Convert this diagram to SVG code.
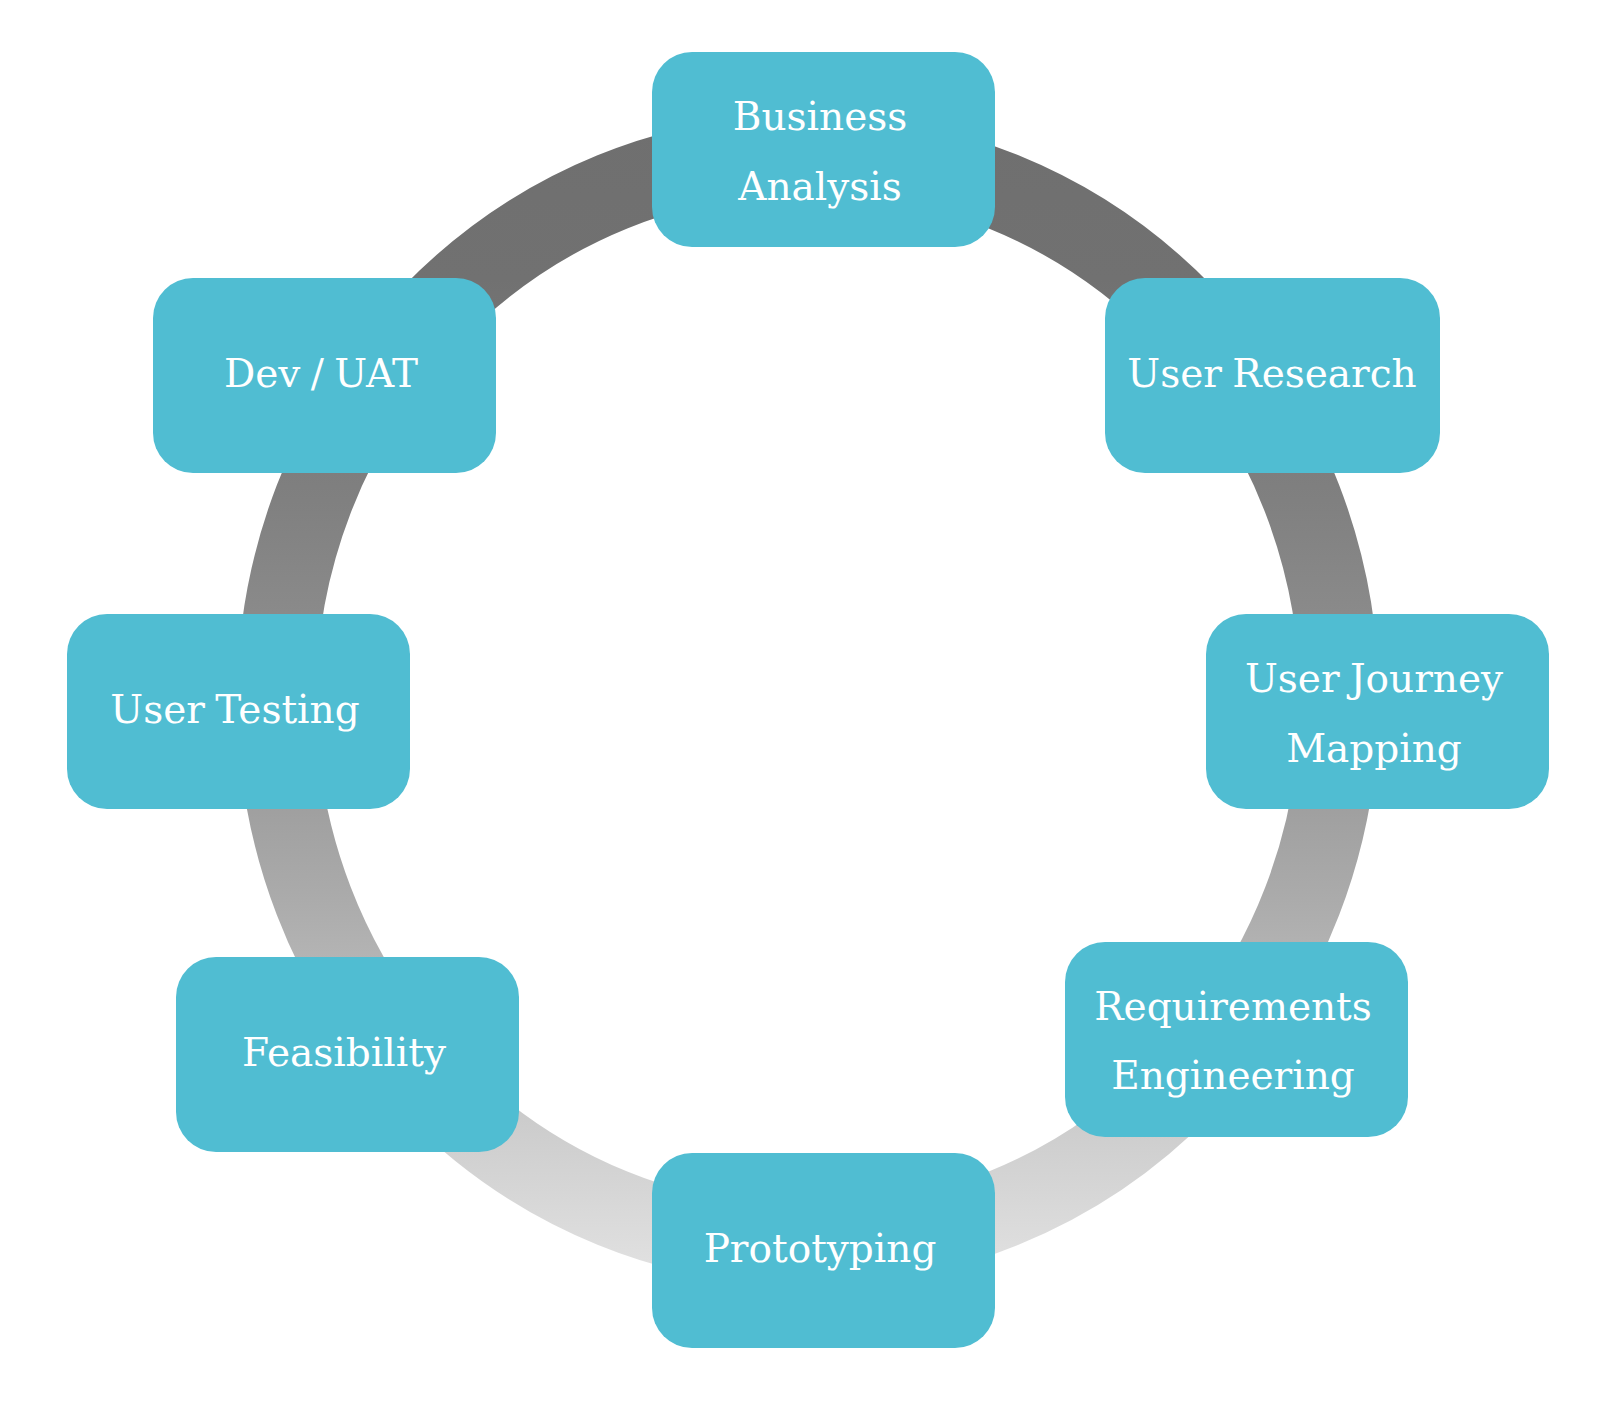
<svg xmlns="http://www.w3.org/2000/svg" width="1598" height="1410" viewBox="0 0 1598 1410">
  <defs>
    <linearGradient id="ringGrad" gradientUnits="userSpaceOnUse" x1="0" y1="115" x2="0" y2="1286">
      <stop offset="0" stop-color="#6f6f6f"/>
      <stop offset="0.14" stop-color="#717171"/>
      <stop offset="0.33" stop-color="#808080"/>
      <stop offset="0.5" stop-color="#929292"/>
      <stop offset="0.67" stop-color="#ababab"/>
      <stop offset="0.84" stop-color="#c9c9c9"/>
      <stop offset="1" stop-color="#e3e3e3"/>
    </linearGradient>
    <style>
      .box { fill: #50bdd2; }
      .lbl { fill: #ffffff; font-family: "DejaVu Serif", "Liberation Serif", serif; font-size: 39px; word-spacing: -2px; text-anchor: middle; }
    </style>
  </defs>
  <rect width="1598" height="1410" fill="#ffffff"/>
  <g id="connectors">
    <ellipse cx="808" cy="700" rx="531.5" ry="546.5" fill="none" stroke="url(#ringGrad)" stroke-width="79"/>
  </g>
  <g id="business-analysis">
    <rect class="box" x="652" y="52" width="343" height="195" rx="40" ry="40"/>
    <text class="lbl" x="820" y="130">Business</text>
    <text class="lbl" x="820" y="200">Analysis</text>
  </g>
  <g id="user-research">
    <rect class="box" x="1105" y="278" width="335" height="195" rx="40" ry="40"/>
    <text class="lbl" x="1272" y="387">User Research</text>
  </g>
  <g id="user-journey-mapping">
    <rect class="box" x="1206" y="614" width="343" height="195" rx="40" ry="40"/>
    <text class="lbl" x="1374" y="692">User Journey</text>
    <text class="lbl" x="1374" y="762">Mapping</text>
  </g>
  <g id="requirements-engineering">
    <rect class="box" x="1065" y="942" width="343" height="195" rx="40" ry="40"/>
    <text class="lbl" x="1233" y="1020">Requirements</text>
    <text class="lbl" x="1233" y="1089">Engineering</text>
  </g>
  <g id="prototyping">
    <rect class="box" x="652" y="1153" width="343" height="195" rx="40" ry="40"/>
    <text class="lbl" x="820" y="1262">Prototyping</text>
  </g>
  <g id="feasibility">
    <rect class="box" x="176" y="957" width="343" height="195" rx="40" ry="40"/>
    <text class="lbl" x="344" y="1066">Feasibility</text>
  </g>
  <g id="user-testing">
    <rect class="box" x="67" y="614" width="343" height="195" rx="40" ry="40"/>
    <text class="lbl" x="235" y="723">User Testing</text>
  </g>
  <g id="dev-uat">
    <rect class="box" x="153" y="278" width="343" height="195" rx="40" ry="40"/>
    <text class="lbl" x="321" y="387">Dev / UAT</text>
  </g>
</svg>
